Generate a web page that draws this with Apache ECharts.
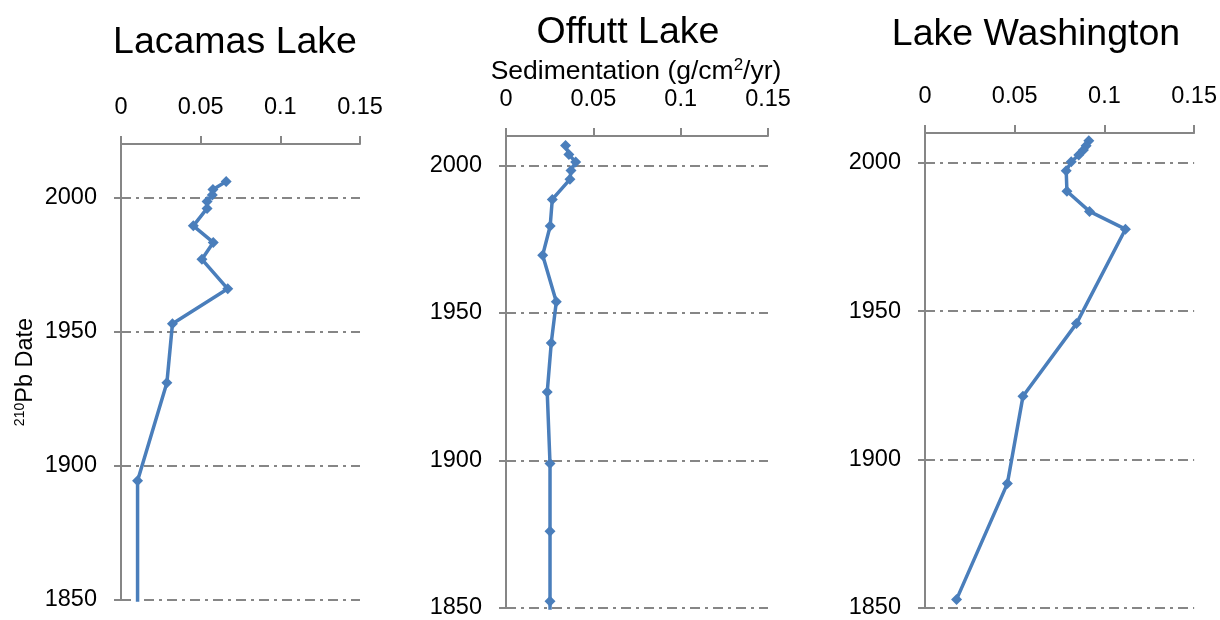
<!DOCTYPE html>
<html>
<head>
<meta charset="utf-8">
<script src="https://cdn.jsdelivr.net/npm/echarts@6/dist/echarts.min.js"></script>
<style>html,body{margin:0;padding:0;background:#fff;}#c{width:1220px;height:620px;}</style>
</head>
<body>
<div id="c"></div>
<script>
// ---- data ----
const titles = ['Lacamas Lake', 'Offutt Lake', 'Lake Washington'];
const xTicks = [0, 0.05, 0.1, 0.15];
const yTicks = [1850, 1900, 1950, 2000];

const lacamasRate = [0.066, 0.0577, 0.0573, 0.054, 0.054, 0.0454, 0.0579, 0.0508, 0.067, 0.0323, 0.0288, 0.0104, 0.0104];
const lacamasYear = [2006, 2003, 2001, 1998.6, 1996, 1989.5, 1983.3, 1977, 1966, 1953, 1931, 1894.5, 1845];

const offuttRate = [0.0341, 0.036, 0.0399, 0.0372, 0.0366, 0.0265, 0.0253, 0.021, 0.0288, 0.0259, 0.0236, 0.0252, 0.0252, 0.0252, 0.0252];
const offuttYear = [2006.8, 2003.7, 2001.2, 1998.3, 1995.3, 1988.5, 1979.5, 1969.6, 1953.8, 1939.8, 1923.2, 1899, 1876, 1852.3, 1830];

const washRate = [0.0913, 0.0898, 0.0883, 0.0857, 0.0815, 0.0787, 0.0791, 0.0917, 0.1117, 0.0844, 0.0546, 0.0459, 0.0176];
const washYear = [2007.4, 2005.7, 2004.3, 2002.6, 2000.3, 1997.3, 1990.4, 1983.6, 1977.6, 1945.8, 1921.3, 1891.9, 1852.9];

const yMax = [2020, 2010, 2010];

// ---- build ----
const FONT = 'Liberation Sans, Arial, sans-serif';
const AX = '#868686';
const LINE = '#4a7ebb';

const grids = [
  {left: 121, top: 144, width: 239, height: 456},
  {left: 506, top: 136, width: 262, height: 474},
  {left: 925, top: 133, width: 270, height: 477}
];
const titleX = [230, 623, 1031];
const titleY = [19, 9, 11];

const pairs = (xs, ys) => xs.map((v, i) => [v, ys[i]]);
const seriesData = [pairs(lacamasRate, lacamasYear), pairs(offuttRate, offuttYear), pairs(washRate, washYear)];

const xAxes = grids.map((g, i) => ({
  gridIndex: i, type: 'value', position: 'top',
  min: xTicks[0], max: xTicks[xTicks.length - 1], interval: xTicks[1] - xTicks[0],
  axisLine: {show: true, lineStyle: {color: AX, width: 2}},
  axisTick: {show: true, length: 8, lineStyle: {color: AX, width: 2}},
  splitLine: {show: false},
  axisLabel: {color: '#000', fontFamily: FONT, fontSize: 23.5, margin: 24,
    formatter: v => String(+v.toFixed(2))}
}));

const yAxes = grids.map((g, i) => {
  const ax = {
    gridIndex: i, type: 'value',
    min: yTicks[0], max: yMax[i], interval: yTicks[1] - yTicks[0],
    axisLine: {show: true, onZero: false, lineStyle: {color: AX, width: 2}},
    axisTick: {show: true, length: 7, lineStyle: {color: AX, width: 2}, customValues: yTicks},
    splitLine: {show: true, lineStyle: {color: AX, width: 2, type: [10, 5, 3, 5]}},
    axisLabel: {color: '#000', fontFamily: FONT, fontSize: 23.5, margin: 24, customValues: yTicks,
      formatter: v => (v % 50 === 0 ? String(v) : '')}
  };
  if (i === 0) {
    ax.name = '{s|210}{b|Pb Date}';
    ax.nameLocation = 'middle';
    ax.nameRotate = 90;
    ax.nameGap = 82;
    ax.nameTextStyle = {
      fontFamily: FONT, color: '#000',
      rich: {
        s: {fontFamily: FONT, fontSize: 14, color: '#000', padding: [0, 0, 12, 0]},
        b: {fontFamily: FONT, fontSize: 23.5, color: '#000'}
      }
    };
  }
  return ax;
});

const series = seriesData.map((d, i) => ({
  type: 'line', xAxisIndex: i, yAxisIndex: i, data: d,
  symbol: 'diamond', symbolSize: 11, showAllSymbol: true, clip: true,
  lineStyle: {color: LINE, width: 3.5}, itemStyle: {color: LINE},
  animation: false
}));

const titleArr = titles.map((t, i) => ({
  text: t, left: titleX[i], top: titleY[i], textAlign: 'center',
  textStyle: {fontFamily: FONT, fontSize: 37.5, fontWeight: 'normal', color: '#000'}
}));
titleArr.push({
  text: '{a|Sedimentation (g/cm}{s|2}{a|/yr)}', left: 631, top: 52, textAlign: 'center',
  textStyle: {fontFamily: FONT, fontSize: 26.5, fontWeight: 'normal', color: '#000',
    rich: {
      a: {fontFamily: FONT, fontSize: 26.5, color: '#000'},
      s: {fontFamily: FONT, fontSize: 17, color: '#000', padding: [0, 0, 12, 0]}
    }}
});

const chart = echarts.init(document.getElementById('c'), null, {renderer: 'canvas'});
chart.setOption({
  animation: false,
  backgroundColor: '#fff',
  title: titleArr,
  grid: grids,
  xAxis: xAxes,
  yAxis: yAxes,
  series: series
});
</script>
</body>
</html>
